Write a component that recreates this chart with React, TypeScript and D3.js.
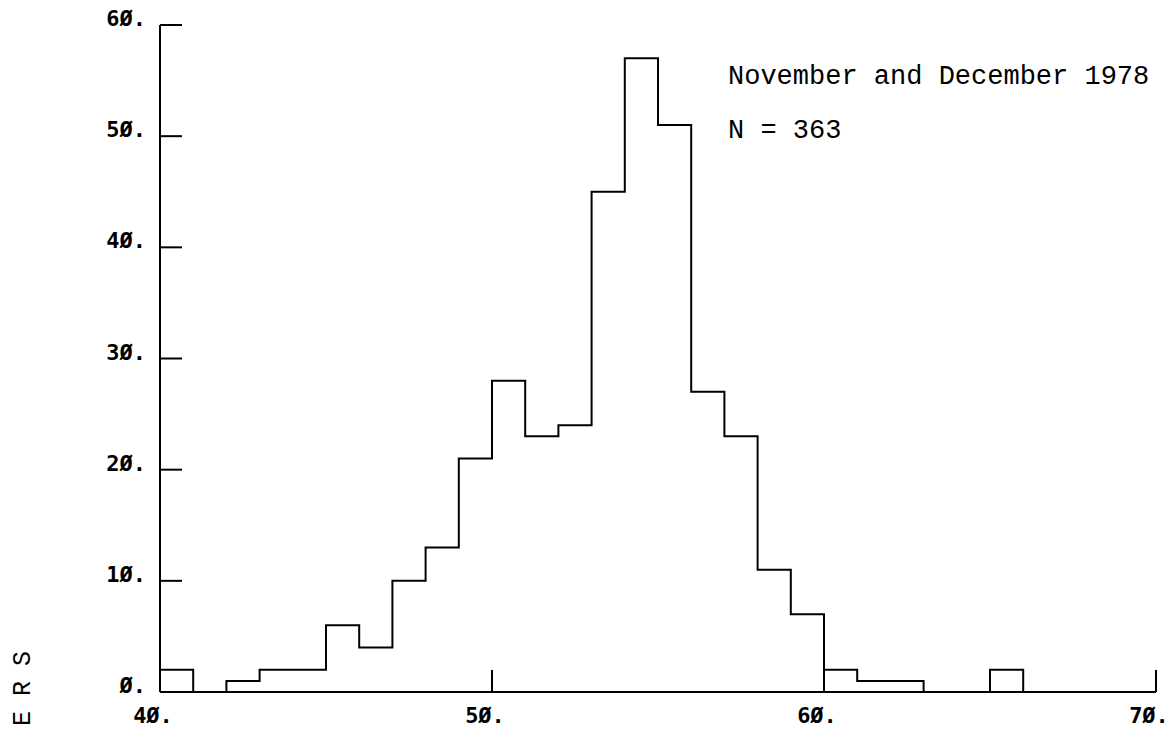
import React, { useRef, useEffect } from "react";
import * as d3 from "d3";

// bin lower edges (width 1) and counts per bin
const binStarts = [
  40, 41, 42, 43, 44, 45, 46, 47, 48, 49, 50, 51, 52, 53, 54,
  55, 56, 57, 58, 59, 60, 61, 62, 63, 64, 65, 66, 67, 68, 69,
];
const counts = [
  2, 0, 1, 2, 2, 6, 4, 10, 13, 21, 28, 23, 24, 45, 57,
  51, 27, 23, 11, 7, 2, 1, 1, 0, 0, 2, 0, 0, 0, 0,
];
const xTicks = [40, 50, 60, 70];
const yTicks = [0, 10, 20, 30, 40, 50, 60];
const titleLines = ["November and December 1978", "N = 363"];
const sideLabel = "E R S";

// plotter style numbers: slashed zero and trailing point
const fmt = (v: number) => String(v).replace(/0/g, "\u00D8") + ".";

const App: React.FC = () => {
  const ref = useRef<SVGSVGElement>(null);

  useEffect(() => {
    if (!ref.current) return;
    const svg = d3.select(ref.current);
    svg.selectAll("*").remove();

    const x = d3.scaleLinear().domain([40, 70]).range([160, 1156]);
    const y = d3.scaleLinear().domain([0, 60]).range([692, 25]);
    const tickLen = 22;
    const tickFont = "'DejaVu Sans Mono', monospace";

    const g = svg.append("g").attr("fill", "none").attr("stroke", "#000").attr("stroke-width", 2);

    // y axis
    g.append("line").attr("x1", x(40)).attr("x2", x(40)).attr("y1", y(60)).attr("y2", y(0));
    yTicks.forEach((t) => {
      g.append("line")
        .attr("x1", x(40))
        .attr("x2", x(40) + tickLen)
        .attr("y1", y(t))
        .attr("y2", y(t));
    });

    // x axis
    g.append("line").attr("x1", x(40)).attr("x2", x(70)).attr("y1", y(0)).attr("y2", y(0));
    xTicks.slice(1).forEach((t) => {
      g.append("line")
        .attr("x1", x(t))
        .attr("x2", x(t))
        .attr("y1", y(0))
        .attr("y2", y(0) - tickLen);
    });

    // histogram outline as a step line
    const pts: [number, number][] = [];
    binStarts.forEach((b, i) => pts.push([b, counts[i]]));
    pts.push([70, 0]);
    const step = d3
      .line<[number, number]>()
      .x((d) => x(d[0]))
      .y((d) => y(d[1]))
      .curve(d3.curveStepAfter);
    g.append("path").attr("d", step([[40, 0], ...pts]) ?? "");

    // tick labels
    svg
      .append("g")
      .selectAll("text")
      .data(yTicks)
      .join("text")
      .attr("x", 146)
      .attr("y", (d) => y(d) + 1)
      .attr("text-anchor", "end")
      .attr("font-family", tickFont)
      .attr("font-weight", "bold")
      .attr("font-size", 22)
      .text((d) => fmt(d));

    svg
      .append("g")
      .selectAll("text")
      .data(xTicks)
      .join("text")
      .attr("x", (d) => x(d) - 7)
      .attr("y", 723)
      .attr("text-anchor", "middle")
      .attr("font-family", tickFont)
      .attr("font-weight", "bold")
      .attr("font-size", 22)
      .text((d) => fmt(d));

    // annotation
    svg
      .append("g")
      .selectAll("text")
      .data(titleLines)
      .join("text")
      .attr("x", 728)
      .attr("y", (d, i) => 84 + i * 54)
      .attr("font-family", "'Liberation Mono', monospace")
      .attr("font-size", 27)
      .text((d) => d);

    // cut-off axis title on the left edge
    svg
      .append("text")
      .attr("transform", "translate(30,726) rotate(-90)")
      .attr("font-family", "'Liberation Mono', monospace")
      .attr("font-size", 25)
      .text(sideLabel);
  }, []);

  return (
    <svg
      ref={ref}
      width={1172}
      height={731}
      style={{ position: "absolute", left: 0, top: 0, background: "#fff" }}
    />
  );
};

export default App;
